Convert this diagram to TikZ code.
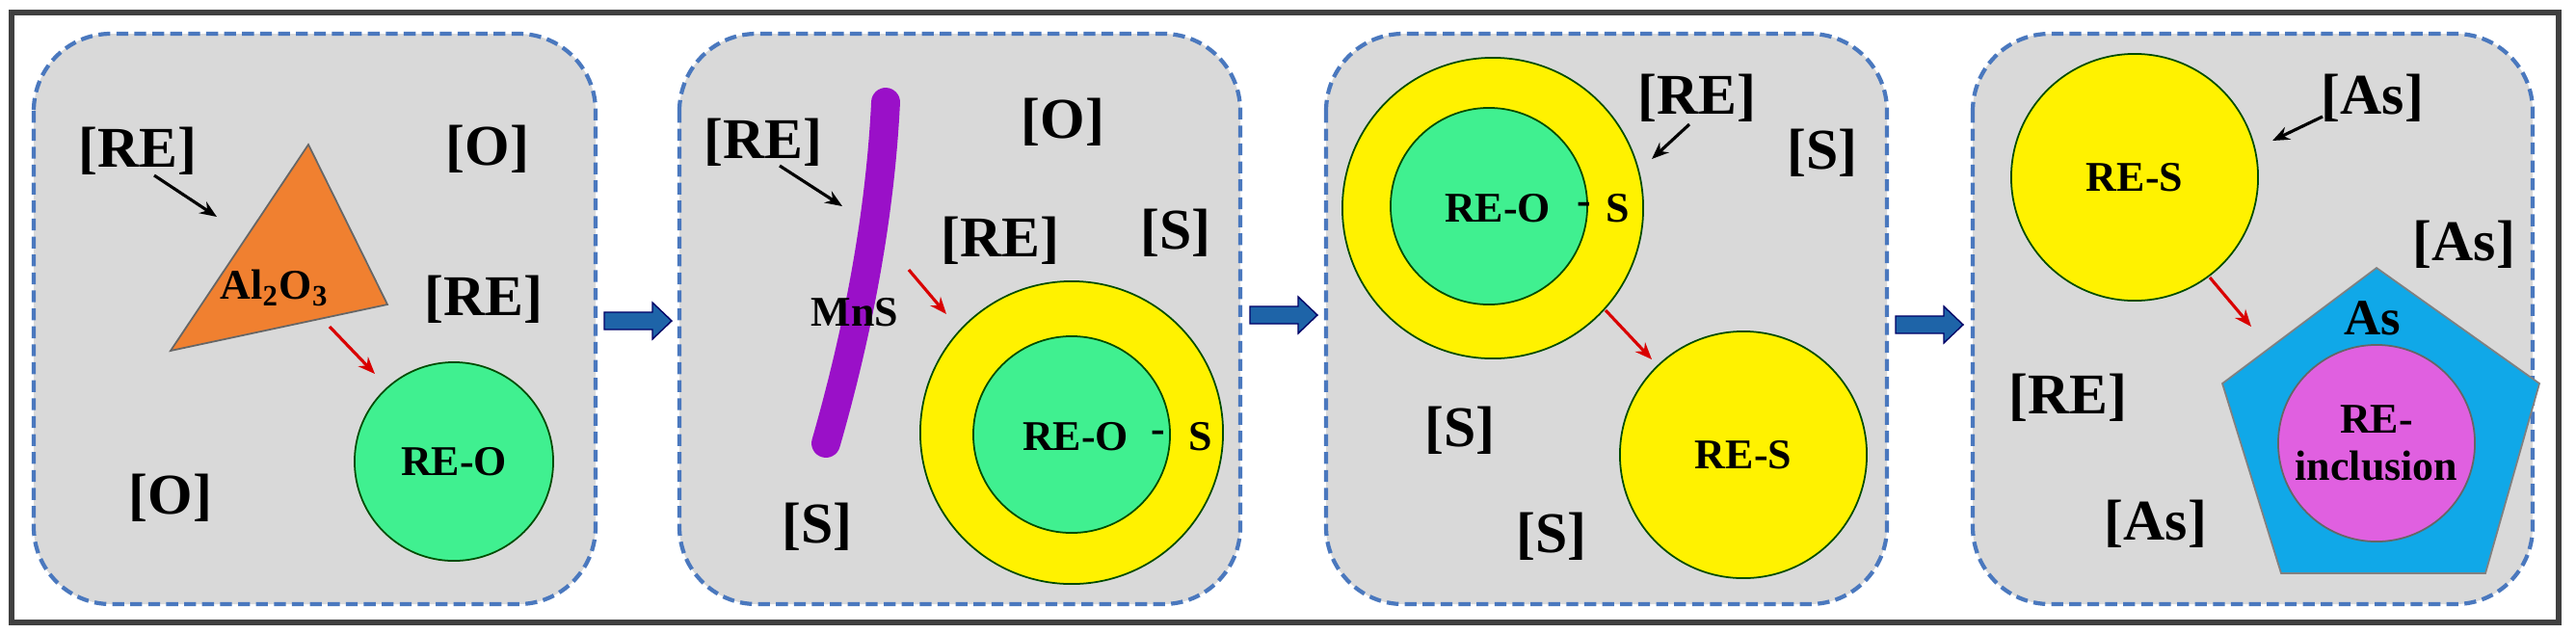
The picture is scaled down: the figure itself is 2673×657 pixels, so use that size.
\documentclass[tikz,border=0pt]{standalone}
\usepackage{fontspec}
\setmainfont{Liberation Serif}
\usetikzlibrary{arrows.meta,shapes.geometric}
\definecolor{pan}{HTML}{D9D9D9}
\definecolor{dash}{HTML}{4A78BE}
\definecolor{barr}{HTML}{1E64A8}
\definecolor{grn}{HTML}{40F090}
\definecolor{yel}{HTML}{FFF200}
\definecolor{org}{HTML}{F08030}
\definecolor{pur}{HTML}{9A10C8}
\definecolor{cyn}{HTML}{10A8E8}
\definecolor{mag}{HTML}{E060E0}
\begin{document}
\begin{tikzpicture}[x=0.01cm,y=-0.01cm,
 panel/.style={fill=pan,draw=dash,dash pattern=on 3.5pt off 1.8pt,line width=1.2pt,rounded corners=0.8cm},
 lab/.style={font=\bfseries\fontsize{17}{19}\selectfont,inner sep=0pt},
 ilab/.style={font=\bfseries\fontsize{12.5}{14}\selectfont,inner sep=0pt,align=center},
 blk/.style={-{Stealth[length=5pt,width=4pt]},line width=0.9pt,black},
 red/.style={-{Stealth[length=5pt,width=4pt]},line width=0.9pt,red!85!black},
 bigarr/.style={fill=barr,draw=black!60!blue,line width=0.4pt},
 ball/.style={circle,draw=black!70!green,line width=0.5pt,inner sep=0pt}]
\useasboundingbox (0,0) rectangle (2673,657);
\draw[line width=1.5pt,black!75] (12,13) rectangle (2655,646);
% panels
\draw[panel] (35,35) rectangle (618,627);
\draw[panel] (705,35) rectangle (1287,627);
\draw[panel] (1376,35) rectangle (1958,627);
\draw[panel] (2047,35) rectangle (2628,627);
% big arrows
\foreach \a/\c in {627/333,1297/327,1967/337}{
 \filldraw[bigarr] (\a,\c-9) -- (\a+50,\c-9) -- (\a+50,\c-19) -- (\a+70,\c) -- (\a+50,\c+19) -- (\a+50,\c+9) -- (\a,\c+9) -- cycle;}
% panel 1
\node[lab] (p1re) at (143,157) {[RE]};
\node[lab] (p1o) at (506,155) {[O]};
\node[lab] (p1re2) at (502,311) {[RE]};
\node[lab] (p1o2) at (177,517) {[O]};
\draw[fill=org,draw=black!60,line width=0.5pt] (320,150) -- (402,316) -- (177,364) -- cycle;
\node[ilab] (al) at (285,299) {Al$_\mathbf{2}$O$_\mathbf{3}$};
\coordinate (b1s) at (160,182); \coordinate (b1e) at (225,225);
\draw[blk] (b1s) -- (b1e);
\node[ball,fill=grn,minimum size=2.06cm] (reo1) at (471,479) {};
\node[ilab] at (reo1) {RE-O};
\coordinate (r1s) at (342,339); \coordinate (r1e) at (389,388);
\draw[red] (r1s) -- (r1e);
% panel 2
\node[lab] (p2re) at (792,148) {[RE]};
\node[lab] (p2o) at (1103,127) {[O]};
\node[lab] (p2re2) at (1038,250) {[RE]};
\node[lab] (p2s) at (1220,242) {[S]};
\node[lab] (p2s2) at (848,547) {[S]};
\draw[pur,line width=8.5pt,line cap=round] (919,106) .. controls (912,250) and (880,380) .. (857,460);
\node[ilab] (mns) at (887,324) {MnS};
\coordinate (b2s) at (809,172); \coordinate (b2e) at (874,214);
\draw[blk] (b2s) -- (b2e);
\node[ball,fill=yel,minimum size=3.14cm] (y2) at (1112,449) {};
\node[ball,fill=grn,minimum size=2.04cm] (g2) at (1112,451) {};
\node[ilab] at (1116,453) {RE-O};
\node[ilab] at (1202,453) {-};
\node[ilab] at (1246,453) {S};
\coordinate (r2s) at (943,280); \coordinate (r2e) at (982,326);
\draw[red] (r2s) -- (r2e);
% panel 3
\node[ball,fill=yel,minimum size=3.12cm] (y3) at (1549,216) {};
\node[ball,fill=grn,minimum size=2.04cm] (g3) at (1545,214) {};
\node[ilab] at (1554,216) {RE-O};
\node[ilab] at (1644,216) {-};
\node[ilab] at (1679,216) {S};
\node[lab] (p3re) at (1761,102) {[RE]};
\node[lab] (p3s) at (1891,159) {[S]};
\node[lab] (p3s2) at (1515,447) {[S]};
\node[lab] (p3s3) at (1610,557) {[S]};
\coordinate (b3s) at (1753,129); \coordinate (b3e) at (1714,165);
\draw[blk] (b3s) -- (b3e);
\node[ball,fill=yel,minimum size=2.56cm] (res3) at (1809,472) {};
\node[ilab] at (res3) {RE-S};
\coordinate (r3s) at (1666,322); \coordinate (r3e) at (1714,373);
\draw[red] (r3s) -- (r3e);
% panel 4
\node[ball,fill=yel,minimum size=2.56cm] (res4) at (2215,184) {};
\node[ilab] at (res4) {RE-S};
\node[lab] (p4as) at (2462,102) {[As]};
\node[lab] (p4as2) at (2557,254) {[As]};
\node[lab] (p4re) at (2146,413) {[RE]};
\node[lab] (p4as3) at (2237,544) {[As]};
\coordinate (b4s) at (2410,121); \coordinate (b4e) at (2358,146);
\draw[blk] (b4s) -- (b4e);
\draw[fill=cyn,draw=black!50,line width=0.5pt] (2466,278) -- (2635,398) -- (2579,595) -- (2367,595) -- (2306,398) -- cycle;
\node[font=\bfseries\fontsize{15}{17}\selectfont,inner sep=0pt] (as) at (2462,330) {As};
\node[ball,fill=mag,minimum size=2.04cm,draw=black!60] (inc) at (2466,460) {};
\node[ilab] at (inc) {RE-\\inclusion};
\coordinate (r4s) at (2293,288); \coordinate (r4e) at (2336,339);
\draw[red] (r4s) -- (r4e);
\end{tikzpicture}
\end{document}
